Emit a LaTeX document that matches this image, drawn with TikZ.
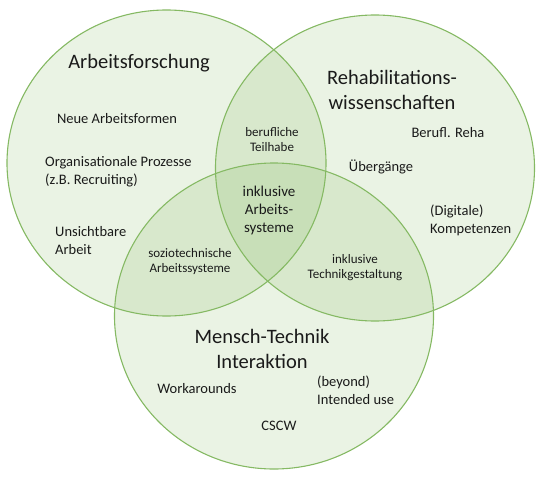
\documentclass[tikz,border=0pt]{standalone}
\usepackage{fontspec}
\setmainfont{Carlito}
\definecolor{vgreen}{HTML}{70AD47}
\definecolor{txt}{HTML}{1A1A1A}
\tikzset{
  setfill/.style={fill=vgreen, fill opacity=0.15},
  setline/.style={draw=vgreen!85!white, line width=1.1pt},
  title/.style={font=\fontsize{20.5}{25}\selectfont, text=txt, align=center, inner sep=0pt},
  lab/.style={font=\fontsize{14.5}{18}\selectfont, text=txt, align=center, inner sep=0pt},
  llab/.style={font=\fontsize{14.5}{18}\selectfont, text=txt, align=left, inner sep=0pt, anchor=west},
  ilab/.style={font=\fontsize{13}{15}\selectfont, text=txt, align=center, inner sep=0pt},
  clab/.style={font=\fontsize{15}{18}\selectfont, text=txt, align=center, inner sep=0pt}
}
\begin{document}
\begin{tikzpicture}[x=1pt,y=-1pt]
\useasboundingbox (0,0) rectangle (541,479);
% fills
\fill[setfill] (166.5,163) ellipse [x radius=159.5pt, y radius=153pt];
\fill[setfill] (375,168) ellipse [x radius=159.5pt, y radius=153pt];
\fill[setfill] (274,316) ellipse [x radius=159.5pt, y radius=153pt];
% outlines
\draw[setline] (166.5,163) ellipse [x radius=159.5pt, y radius=153pt];
\draw[setline] (375,168) ellipse [x radius=159.5pt, y radius=153pt];
\draw[setline] (274,316) ellipse [x radius=159.5pt, y radius=153pt];
% titles
\node[title] (t1) at (139,63) {Arbeitsforschung};
\node[title] (t2) at (392,90) {Rehabilitations-\\wissenschaften};
\node[title] (t3) at (262,349) {Mensch-Technik\\Interaktion};
% left
\node[lab] (a1) at (117,119) {Neue Arbeitsformen};
\node[llab] (a2) at (45,172) {Organisationale Prozesse\\(z.B. Recruiting)};
\node[llab] (a3) at (55,241) {Unsichtbare\\Arbeit};
% right
\node[lab] (b1) at (448,133) {Berufl. Reha};
\node[lab] (b2) at (381,167) {Übergänge};
\node[llab] (b3) at (430,220) {(Digitale)\\Kompetenzen};
% bottom
\node[lab] (c1) at (197,389) {Workarounds};
\node[llab] (c2) at (317,390) {(beyond)\\Intended use};
\node[lab] (c3) at (279,426) {CSCW};
% intersections
\node[ilab] (ab) at (272,140) {berufliche\\Teilhabe};
\node[ilab] (ac) at (190,262) {soziotechnische\\Arbeitssysteme};
\node[ilab] (bc) at (355,268) {inklusive\\Technikgestaltung};
\node[clab] (abc) at (269,210) {inklusive\\Arbeits-\\systeme};
\end{tikzpicture}
\end{document}
